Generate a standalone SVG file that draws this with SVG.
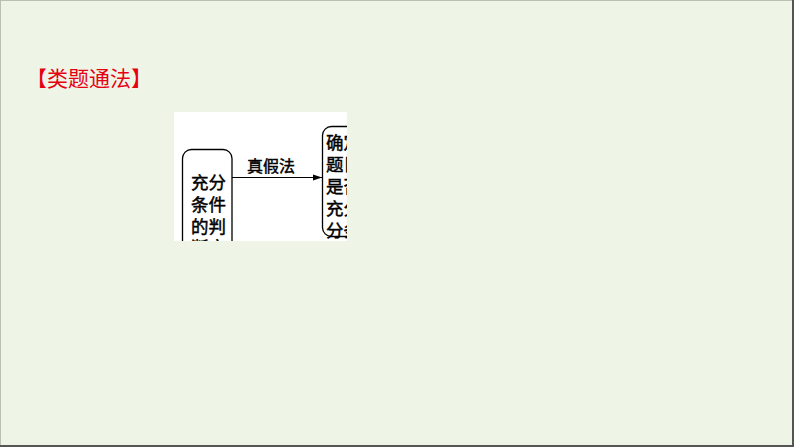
<svg xmlns="http://www.w3.org/2000/svg" width="794" height="447" viewBox="0 0 794 447">
<style>
.t{font-family:"Liberation Sans","Noto Sans CJK SC",sans-serif;fill:#000;stroke:#000;stroke-width:0.45}
.box{fill:#fff;stroke:#000;stroke-width:1.3}
.title{font-family:"Liberation Sans","Noto Sans CJK SC",sans-serif;fill:#e60012;font-size:21px}
</style>
<defs>
<clipPath id="crop"><rect x="174" y="112" width="173" height="129"/></clipPath>
<marker id="ah" markerWidth="10" markerHeight="8" refX="9" refY="4" orient="auto" markerUnits="userSpaceOnUse">
<path d="M0,1 L9,4 L0,7 Z" fill="#000"/>
</marker>
</defs>
<rect x="0" y="0" width="794" height="447" fill="#eef4e6"/>
<rect x="0.5" y="0.5" width="792" height="445" fill="none" stroke="#b9c2b0" stroke-width="1"/>
<line x1="793" y1="0" x2="793" y2="447" stroke="#555" stroke-width="2"/>
<line x1="0" y1="446" x2="794" y2="446" stroke="#555" stroke-width="2"/>
<text class="title" x="26" y="86">【类题通法】</text>
<g clip-path="url(#crop)">
<rect x="174" y="112" width="173" height="129" fill="#fff"/>
<g id="connectors">
<line x1="232" y1="177.5" x2="322" y2="177.5" stroke="#000" stroke-width="1.2" marker-end="url(#ah)"/>
<text class="t" x="247" y="172" font-size="16">真假法</text>
</g>
<g id="node-left">
<rect class="box" x="182.5" y="149.5" width="49.5" height="130" rx="9"/>
<text class="t" font-size="17.5" x="191" y="189">充分</text>
<text class="t" font-size="17.5" x="191" y="211">条件</text>
<text class="t" font-size="17.5" x="191" y="233">的判</text>
<text class="t" font-size="17.5" x="191" y="254">断方</text>
</g>
<g id="node-right">
<rect class="box" x="322.5" y="126.5" width="50" height="110" rx="9"/>
<text class="t" font-size="17.5" x="326" y="149">确定</text>
<text class="t" font-size="17.5" x="326" y="171">题目</text>
<text class="t" font-size="17.5" x="326" y="193">是否</text>
<text class="t" font-size="17.5" x="326" y="215">充分</text>
<text class="t" font-size="17.5" x="326" y="237">分条</text>
</g>
</g>
</svg>
